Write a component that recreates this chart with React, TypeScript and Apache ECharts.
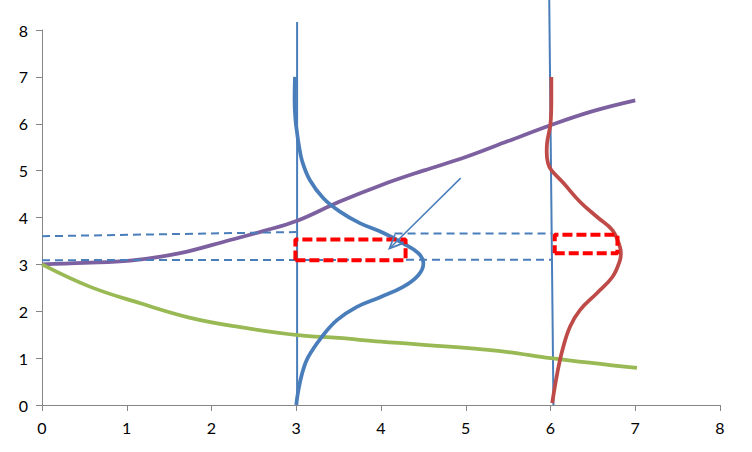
import React, { useEffect, useRef } from "react";
import * as echarts from "echarts";

const axisTicks = { min: 0, max: 8, interval: 1 };

const vLineLeft: [number, number][] = [[3.01, 0], [3.01, 8.17]];
const vLineRight: [number, number][] = [[6.035, 0], [5.985, 8.65]];

const blueCurve: [number, number][] = [
  [2.985, 7.0], [2.98, 6.5], [2.99, 6.1], [3.01, 5.8], [3.03, 5.55], [3.07, 5.2],
  [3.16, 4.8], [3.32, 4.41], [3.52, 4.12], [3.75, 3.88], [4.03, 3.67], [4.26, 3.45],
  [4.44, 3.24], [4.5, 3.02], [4.44, 2.77], [4.26, 2.52], [3.99, 2.3], [3.71, 2.09],
  [3.48, 1.81], [3.3, 1.45], [3.14, 1.02], [3.07, 0.68], [3.02, 0.26], [3.0, 0],
];

const redCurve: [number, number][] = [
  [6.01, 7.0], [6.01, 6.5], [6.0, 6.0], [5.96, 5.6], [5.955, 5.4], [5.97, 5.16],
  [6.01, 5.01], [6.15, 4.74], [6.35, 4.33], [6.55, 4.01], [6.73, 3.73], [6.82, 3.37],
  [6.83, 3.23], [6.82, 3.09], [6.73, 2.73], [6.55, 2.39], [6.35, 2.03], [6.23, 1.67],
  [6.14, 1.17], [6.08, 0.68], [6.02, 0.04],
];

const purpleCurve: [number, number][] = [
  [0, 3.0], [0.5, 3.03], [1.04, 3.08], [1.63, 3.24], [2.22, 3.52], [2.61, 3.71],
  [3.01, 3.93], [3.5, 4.33], [4, 4.69], [4.5, 5.0], [5, 5.29], [5.5, 5.63],
  [6, 5.97], [6.5, 6.27], [7, 6.5],
];

const greenCurve: [number, number][] = [
  [0, 3.0], [0.57, 2.52], [1.16, 2.17], [1.75, 1.86], [2.34, 1.66], [3.02, 1.49],
  [3.5, 1.43], [4, 1.35], [5, 1.22], [5.5, 1.13], [6, 1.0], [7.02, 0.79],
];

const dashUpperLeft: [number, number][] = [[0, 3.6], [3.0, 3.69]];
const dashUpperRight: [number, number][] = [[4.16, 3.66], [6.02, 3.66]];
const dashLower: [number, number][] = [[0, 3.09], [6.02, 3.1]];

const rectLeft: [number, number][] = [[2.99, 3.09], [4.29, 3.09], [4.29, 3.53], [2.99, 3.53], [2.99, 3.09]];
const rectRight: [number, number][] = [[6.05, 3.24], [6.79, 3.24], [6.79, 3.63], [6.05, 3.63], [6.05, 3.24]];

// arrow: [fromX, fromY, toX, toY]
const arrows: number[][] = [[4.94, 4.84, 4.1, 3.34]];

const BLUE = "#4A7EBB";
const RED = "#BE4B48";
const GREEN = "#98B954";
const PURPLE = "#7D60A0";

function lineSeries(data: [number, number][], color: string, width: number, extra: any = {}) {
  return {
    type: "line",
    data,
    symbol: "none",
    showSymbol: false,
    clip: false,
    silent: true,
    lineStyle: { color, width, ...(extra.lineStyle || {}) },
    smooth: extra.smooth ?? false,
    z: extra.z ?? 2,
  };
}

export default function App() {
  const ref = useRef<HTMLDivElement>(null);
  useEffect(() => {
    const chart = echarts.init(ref.current!, null, { renderer: "svg" });
    const axisCommon = {
      type: "value",
      ...axisTicks,
      axisLine: { show: true, lineStyle: { color: "#868686", width: 1 } },
      axisTick: { show: true, length: 6, lineStyle: { color: "#868686" } },
      splitLine: { show: false },
      axisLabel: { color: "#000", fontSize: 16, fontFamily: "Lato, 'Open Sans', sans-serif", margin: 14 },
    };
    chart.setOption({
      animation: false,
      backgroundColor: "#fff",
      grid: { left: 42, right: 32, top: 30, bottom: 47 },
      xAxis: axisCommon,
      yAxis: axisCommon,
      series: [
        lineSeries(vLineLeft, BLUE, 2),
        lineSeries(vLineRight, BLUE, 2),
        lineSeries(purpleCurve, PURPLE, 3.75, { smooth: 0.4 }),
        lineSeries(greenCurve, GREEN, 3.75, { smooth: 0.4 }),
        lineSeries(blueCurve, BLUE, 3.75, { smooth: 0.4 }),
        lineSeries(redCurve, RED, 3.75, { smooth: 0.4 }),
        lineSeries(dashUpperLeft, BLUE, 2, { lineStyle: { type: [8, 5] } }),
        lineSeries(dashUpperRight, BLUE, 2, { lineStyle: { type: [8, 5] } }),
        lineSeries(dashLower, BLUE, 2, { lineStyle: { type: [8, 5] } }),
        lineSeries(rectLeft, "#FF0000", 4, { lineStyle: { type: [10, 4] }, z: 4 }),
        lineSeries(rectRight, "#FF0000", 4, { lineStyle: { type: [10, 4] }, z: 4 }),
        {
          type: "custom",
          silent: true,
          z: 5,
          clip: false,
          data: arrows,
          renderItem: (_params: any, api: any) => {
            const p0 = api.coord([api.value(0), api.value(1)]);
            const p1 = api.coord([api.value(2), api.value(3)]);
            const ang = Math.atan2(p1[1] - p0[1], p1[0] - p0[0]);
            const L = 15;
            const spread = 0.42;
            const a1 = [p1[0] - L * Math.cos(ang - spread), p1[1] - L * Math.sin(ang - spread)];
            const a2 = [p1[0] - L * Math.cos(ang + spread), p1[1] - L * Math.sin(ang + spread)];
            return {
              type: "group",
              children: [
                {
                  type: "line",
                  shape: { x1: p0[0], y1: p0[1], x2: p1[0], y2: p1[1] },
                  style: { stroke: BLUE, lineWidth: 1.5 },
                },
                {
                  type: "polyline",
                  shape: { points: [a1, p1, a2] },
                  style: { stroke: BLUE, lineWidth: 1.75, fill: "none", lineJoin: "miter" },
                },
              ],
            };
          },
        },
      ],
    });
    return () => chart.dispose();
  }, []);
  return <div ref={ref} style={{ position: "fixed", left: 0, top: 0, width: 752, height: 452 }} />;
}
